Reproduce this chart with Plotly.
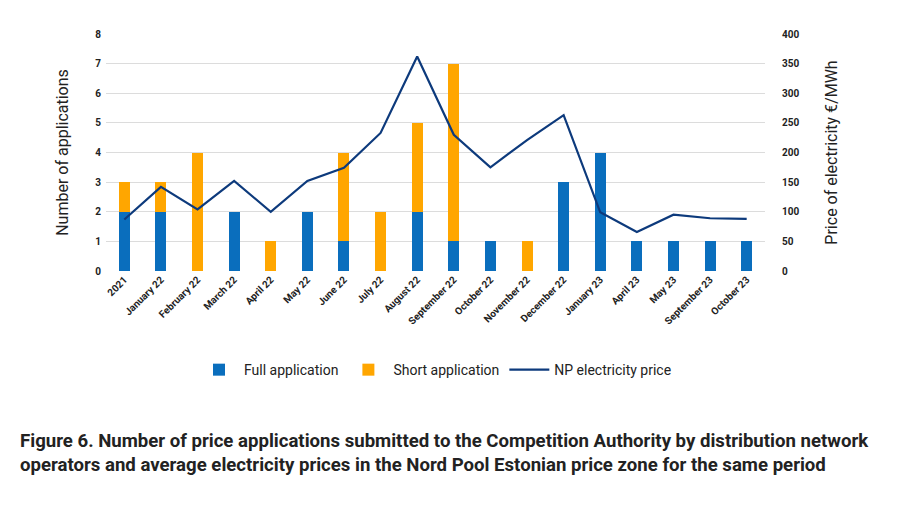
import plotly.graph_objects as go

categories = ["2021", "January 22", "February 22", "March 22", "April 22", "May 22",
              "June 22", "July 22", "August 22", "September 22", "October 22",
              "November 22", "December 22", "January 23", "April 23", "May 23",
              "September 23", "October 23"]
full_app = [2, 2, 0, 2, 0, 2, 1, 0, 2, 1, 1, 0, 3, 4, 1, 1, 1, 1]
short_app = [1, 1, 4, 0, 1, 0, 3, 2, 3, 6, 0, 1, 0, 0, 0, 0, 0, 0]
np_price = [87, 142, 104, 152, 100, 152, 174, 233, 362, 230, 175, 221, 263, 99, 66, 95, 89, 88]

BLUE = "#0a6ebd"
ORANGE = "#ffa600"
NAVY = "#0d3a7c"
TXT = "#222222"

fig = go.Figure()
fig.add_trace(go.Bar(x=categories, y=full_app, name="Full application",
                     marker=dict(color=BLUE, line=dict(width=0)), width=0.3))
fig.add_trace(go.Bar(x=categories, y=short_app, name="Short application",
                     marker=dict(color=ORANGE, line=dict(width=0)), width=0.3))
fig.add_trace(go.Scatter(x=categories, y=np_price, name="NP electricity price",
                         mode="lines", line=dict(color=NAVY, width=2.2), yaxis="y2"))

tickfont = dict(family="Roboto", size=10, color=TXT, weight="bold")
fig.update_layout(
    width=899, height=510,
    margin=dict(l=106, r=134, t=34, b=239),
    barmode="stack",
    plot_bgcolor="white", paper_bgcolor="white",
    font=dict(family="Roboto", color=TXT),
    xaxis=dict(tickangle=-45, tickfont=tickfont, showgrid=False, showline=False,
               ticks="", automargin=False),
    yaxis=dict(range=[0, 8], dtick=1, tickfont=tickfont, gridcolor="#dcdcdc",
               gridwidth=1, zeroline=False, showline=False, ticks="", automargin=False,
               ticklabelstandoff=4,
               title=dict(text="Number of applications", font=dict(family="Roboto", size=16, color=TXT),
                          standoff=22)),
    yaxis2=dict(range=[0, 400], dtick=50, overlaying="y", side="right",
                tickfont=tickfont, showgrid=False, zeroline=False, showline=False,
                ticks="", automargin=False, ticklabelstandoff=16,
                title=dict(text="Price of electricity €/MWh", font=dict(family="Roboto", size=16, color=TXT),
                           standoff=27)),
    legend=dict(orientation="h", x=0.5, xanchor="center", y=-0.418, yanchor="middle",
                font=dict(family="Roboto", size=14, color=TXT), traceorder="normal",
                itemwidth=40),
    annotations=[
        dict(text="<b>Figure 6. Number of price applications submitted to the Competition Authority by distribution network</b>",
             xref="paper", yref="paper", x=(18 - 106) / 659, y=(271 - 441) / 237,
             xanchor="left", yanchor="middle", showarrow=False,
             font=dict(family="Roboto", size=18.6, color=TXT)),
        dict(text="<b>operators and average electricity prices in the Nord Pool Estonian price zone for the same period</b>",
             xref="paper", yref="paper", x=(18 - 106) / 659, y=(271 - 465) / 237,
             xanchor="left", yanchor="middle", showarrow=False,
             font=dict(family="Roboto", size=18.6, color=TXT)),
    ],
)

fig.write_html("out.html")
